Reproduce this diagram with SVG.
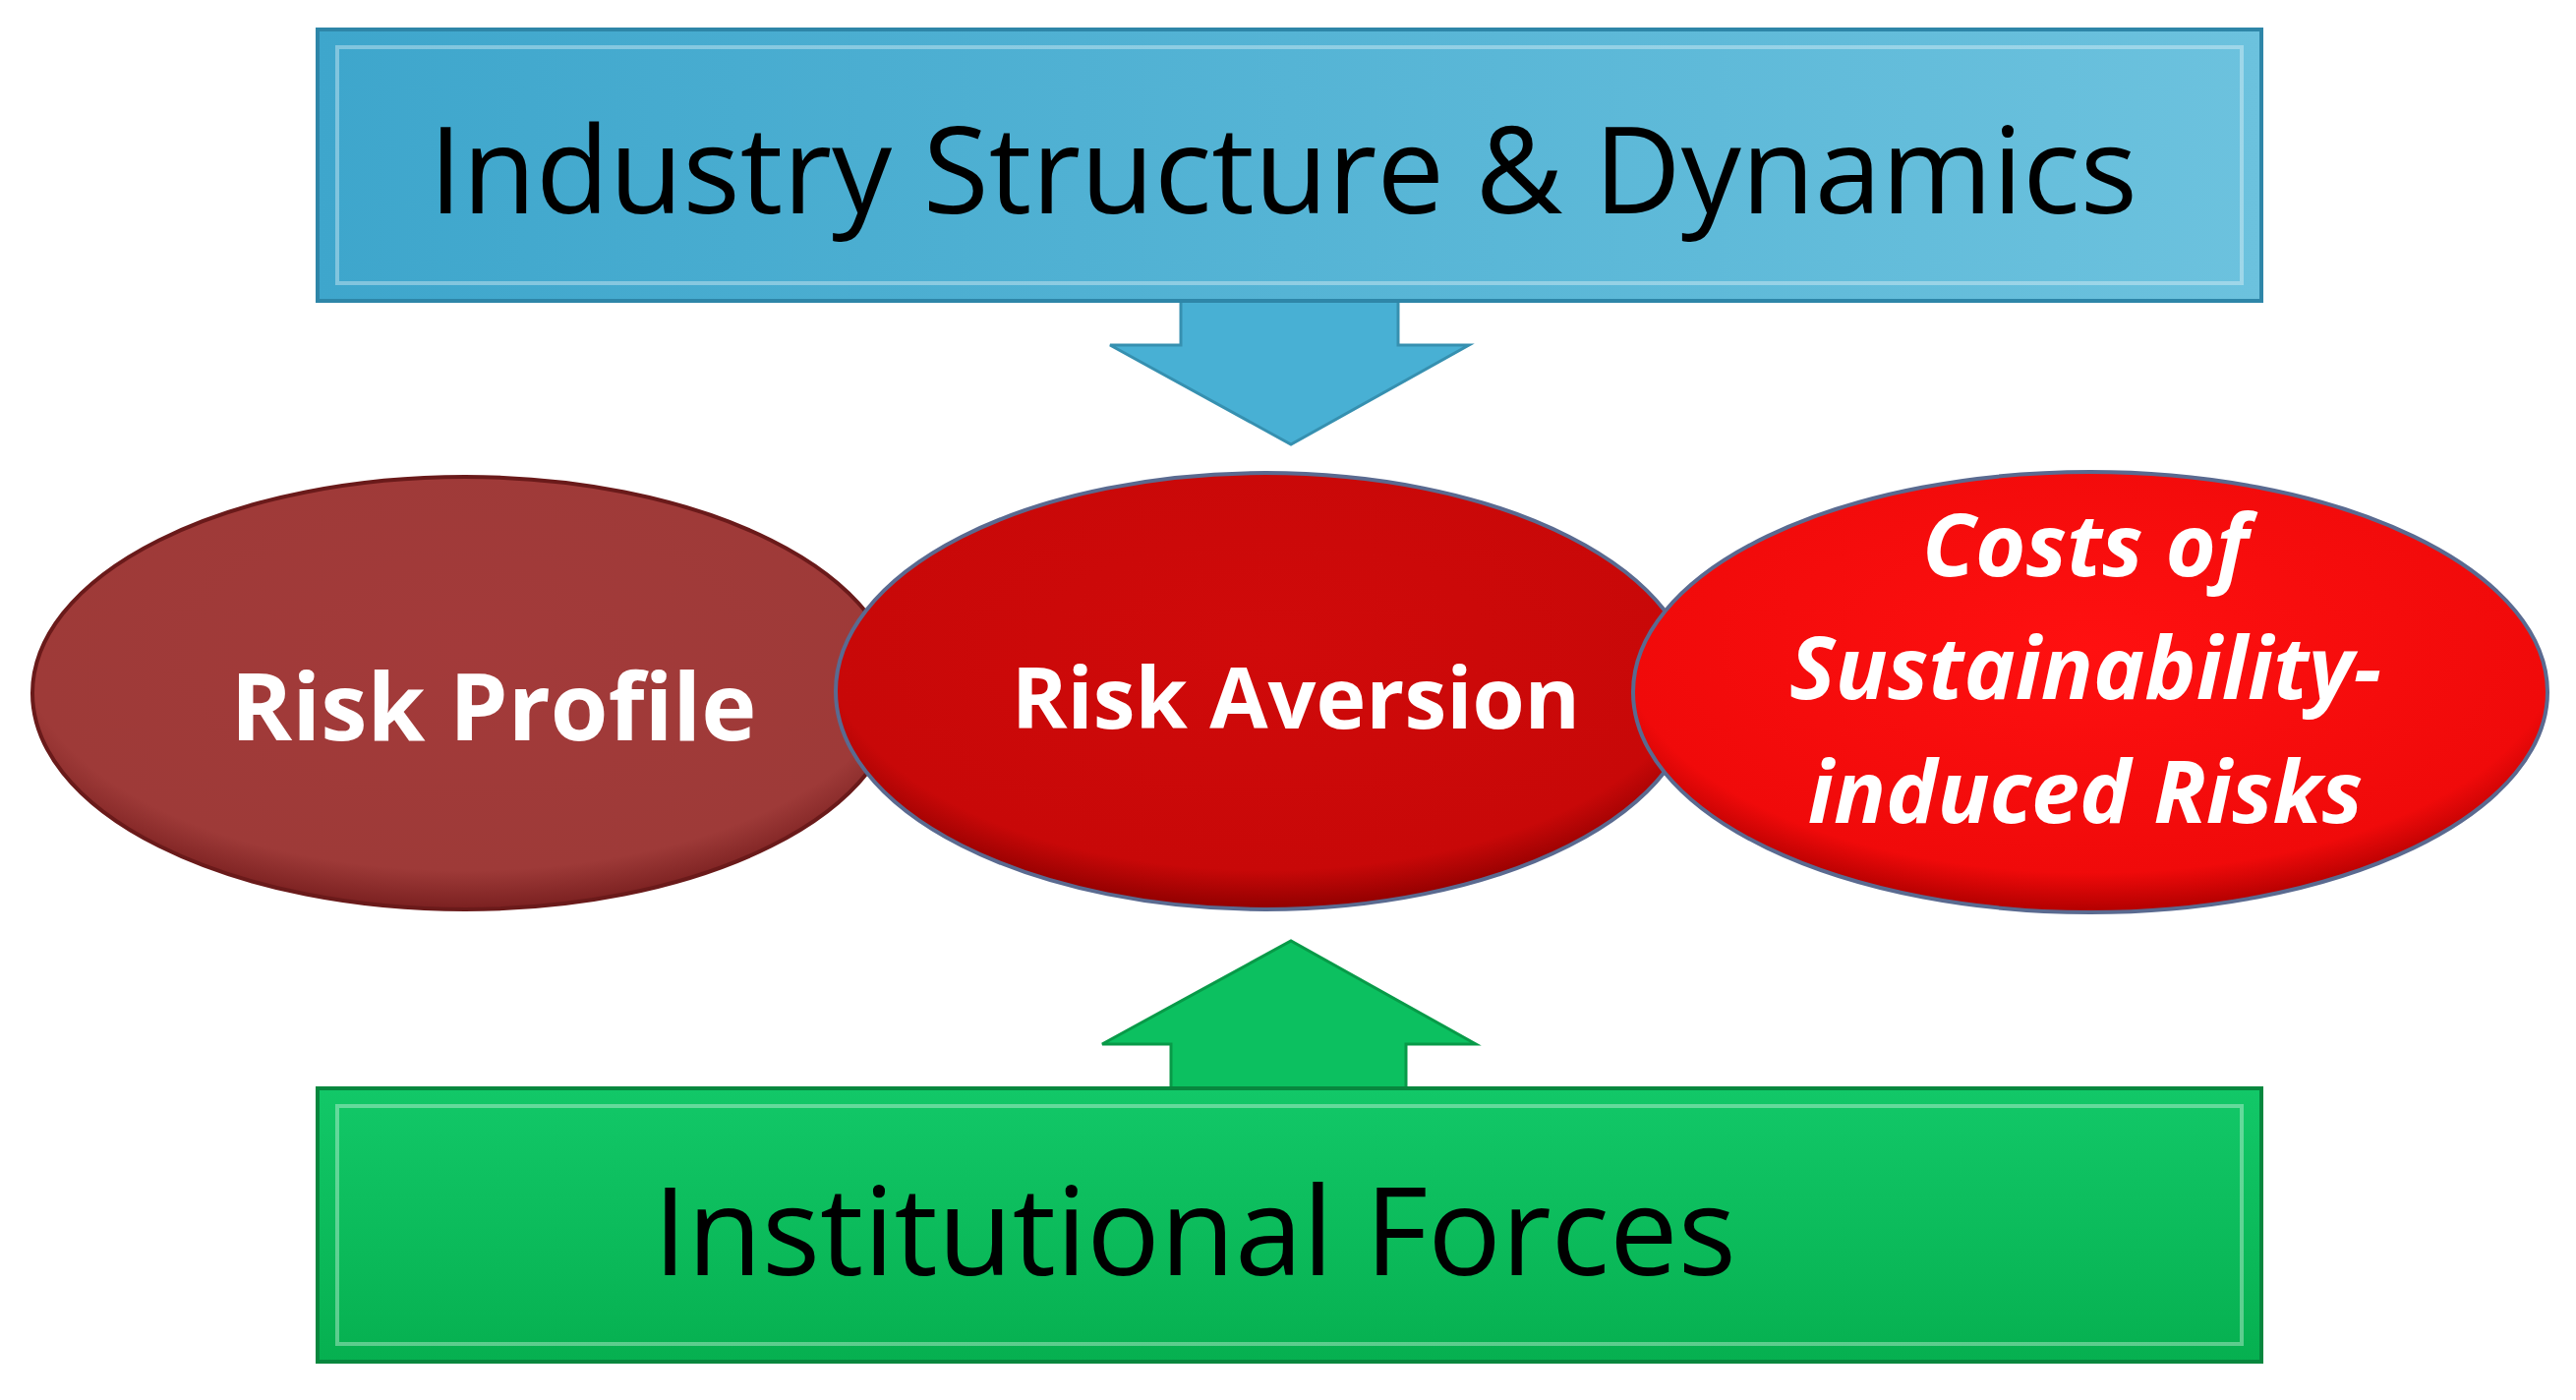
<svg xmlns="http://www.w3.org/2000/svg" width="2620" height="1424" viewBox="0 0 2620 1424">
<defs>
<linearGradient id="gb" x1="0" y1="0" x2="1" y2="0"><stop offset="0" stop-color="#3ea6cc"/><stop offset="1" stop-color="#6cc2de"/></linearGradient>
<linearGradient id="gg" x1="0" y1="0" x2="0" y2="1"><stop offset="0" stop-color="#12c868"/><stop offset="1" stop-color="#06b050"/></linearGradient>
<radialGradient id="r1" cx="0.5" cy="0.4" r="0.6"><stop offset="0" stop-color="#a33a3a"/><stop offset="0.85" stop-color="#9e3a38"/><stop offset="1" stop-color="#7a2020"/></radialGradient>
<radialGradient id="r2" cx="0.5" cy="0.4" r="0.6"><stop offset="0" stop-color="#d00a0a"/><stop offset="0.85" stop-color="#c80808"/><stop offset="1" stop-color="#900000"/></radialGradient>
<radialGradient id="r3" cx="0.5" cy="0.4" r="0.6"><stop offset="0" stop-color="#ff1010"/><stop offset="0.85" stop-color="#f00a0a"/><stop offset="1" stop-color="#b00000"/></radialGradient>
</defs>
<style>
.t{font-family:"Open Sans","Liberation Sans",sans-serif;text-anchor:middle}
.big{fill:#000}
.w{font-weight:bold;fill:#fff}
.wi{font-size:88px;font-weight:bold;font-style:italic;fill:#fff}
.bev{fill:none;stroke:#ffffff;stroke-opacity:0.35;stroke-width:4}
</style>
<g id="connectors">
<path d="M1201,300 L1422,300 L1422,351 L1494,351 L1313,452 L1129,351 L1201,351 Z" fill="#48b0d4" stroke="#3690b0" stroke-width="3"/>
<path d="M1191,1115 L1430,1115 L1430,1062 L1501,1062 L1313,957 L1121,1062 L1191,1062 Z" fill="#0cc060" stroke="#089a48" stroke-width="3"/>
</g>
<g id="top">
<rect x="323" y="30" width="1977" height="276" fill="url(#gb)" stroke="#2e86a8" stroke-width="4"/>
<rect class="bev" x="343" y="48" width="1937" height="240"/>
<text class="t big" x="1305" y="217" font-size="122">Industry Structure &amp; Dynamics</text>
</g>
<g id="bottom">
<rect x="323" y="1107" width="1977" height="278" fill="url(#gg)" stroke="#07873e" stroke-width="4"/>
<rect class="bev" x="343" y="1125" width="1937" height="242"/>
<text class="t big" x="1215" y="1297" font-size="124">Institutional Forces</text>
</g>
<g id="riskprofile">
<ellipse cx="473" cy="705" rx="440" ry="220" fill="url(#r1)" stroke="#6a1a1a" stroke-width="4"/>
<text class="t w" x="502" y="753" font-size="95">Risk Profile</text>
</g>
<g id="riskaversion">
<ellipse cx="1287" cy="703" rx="437" ry="222" fill="url(#r2)" stroke="#5a6a90" stroke-width="4"/>
<text class="t w" x="1318" y="741" font-size="86">Risk Aversion</text>
</g>
<g id="costs">
<ellipse cx="2126" cy="704" rx="465" ry="224" fill="url(#r3)" stroke="#5a6a90" stroke-width="4"/>
<text class="t wi" x="2121" y="586">Costs of</text>
<text class="t wi" x="2121" y="711">Sustainability-</text>
<text class="t wi" x="2121" y="837">induced Risks</text>
</g>
</svg>
